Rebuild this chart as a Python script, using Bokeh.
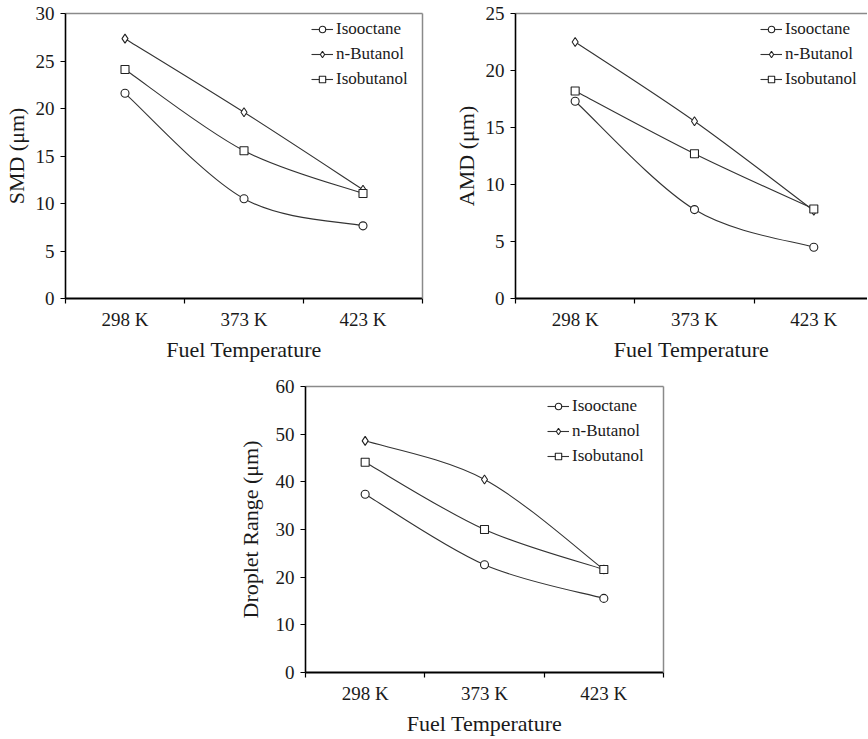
from bokeh.plotting import figure
from bokeh.layouts import column, row, Spacer
from bokeh.models import Range1d, FixedTicker, LinearAxis, Legend, LegendItem
from bokeh.embed import file_html
from bokeh.resources import INLINE

# ---- data ----
temps = ["298 K", "373 K", "423 K"]
series = ["Isooctane", "n-Butanol", "Isobutanol"]
markers = ["circle", "diamond", "square"]

smd_isooctane = [21.6, 10.5, 7.65]
smd_nbutanol = [27.35, 19.6, 11.45]
smd_isobutanol = [24.1, 15.55, 11.05]

amd_isooctane = [17.3, 7.8, 4.5]
amd_nbutanol = [22.5, 15.55, 7.7]
amd_isobutanol = [18.2, 12.7, 7.85]

range_isooctane = [37.4, 22.6, 15.55]
range_nbutanol = [48.6, 40.5, 21.6]
range_isobutanol = [44.1, 30.0, 21.6]

FONT = "Liberation Serif"
LINE = "#333333"
BORDER = "#8a8a8a"
TEXT = "#1a1a1a"
marker_sizes = {"circle": 8, "diamond": 9, "square": 8}


def smooth_segments(xs, ys):
    """Catmull-Rom style bezier control points (Excel-like smoothing)."""
    n = len(xs)
    out = dict(x0=[], y0=[], x1=[], y1=[], cx0=[], cy0=[], cx1=[], cy1=[])
    for i in range(n - 1):
        pm = max(i - 1, 0)
        pp = min(i + 2, n - 1)
        out["x0"].append(xs[i]); out["y0"].append(ys[i])
        out["x1"].append(xs[i + 1]); out["y1"].append(ys[i + 1])
        out["cx0"].append(xs[i] + (xs[i + 1] - xs[pm]) / 6.0)
        out["cy0"].append(ys[i] + (ys[i + 1] - ys[pm]) / 6.0)
        out["cx1"].append(xs[i + 1] - (xs[pp] - xs[i]) / 6.0)
        out["cy1"].append(ys[i + 1] - (ys[pp] - ys[i]) / 6.0)
    return out


def panel(data, ytitle, ymax, ystep, width, height, bl, br, bt, bb, xend,
          legend_xy, ylab_standoff=4, show_right=True):
    p = figure(width=width, height=height, output_backend="svg",
               toolbar_location=None, x_range=Range1d(0, xend),
               y_range=Range1d(0, ymax), min_border_left=bl,
               min_border_right=br, min_border_top=bt, min_border_bottom=bb,
               x_axis_type=None, y_axis_type=None)
    p.grid.visible = False
    p.outline_line_color = None
    p.background_fill_color = "white"
    p.border_fill_color = "white"

    xpos = [i + 0.5 for i in range(len(temps))]

    xaxis = LinearAxis(ticker=FixedTicker(ticks=xpos, minor_ticks=list(range(len(temps) + 1))),
                       major_label_overrides={x: t for x, t in zip(xpos, temps)})
    xaxis.axis_label = "Fuel Temperature"
    xaxis.major_tick_line_color = None
    xaxis.major_tick_out = 0
    xaxis.major_tick_in = 0
    xaxis.minor_tick_line_color = "black"
    xaxis.minor_tick_out = 5
    xaxis.minor_tick_in = 0
    xaxis.minor_tick_line_width = 1.2
    xaxis.axis_line_color = "black"
    xaxis.axis_line_width = 2
    xaxis.major_label_standoff = 5
    xaxis.major_label_text_font = FONT
    xaxis.major_label_text_font_size = "19px"
    xaxis.major_label_text_color = TEXT
    xaxis.axis_label_text_font = FONT
    xaxis.axis_label_text_font_size = "22px"
    xaxis.axis_label_text_font_style = "normal"
    xaxis.axis_label_text_color = TEXT
    xaxis.axis_label_standoff = 4
    p.add_layout(xaxis, "below")

    yaxis = LinearAxis(ticker=FixedTicker(ticks=list(range(0, ymax + 1, ystep)), minor_ticks=[]))
    yaxis.axis_label = ytitle
    yaxis.major_tick_line_color = "black"
    yaxis.major_tick_out = 5
    yaxis.major_tick_in = 0
    yaxis.major_tick_line_width = 1.2
    yaxis.minor_tick_line_color = None
    yaxis.axis_line_color = "black"
    yaxis.axis_line_width = 1.6
    yaxis.major_label_standoff = 6
    yaxis.major_label_text_font = FONT
    yaxis.major_label_text_font_size = "19px"
    yaxis.major_label_text_color = TEXT
    yaxis.axis_label_text_font = FONT
    yaxis.axis_label_text_font_size = "22px"
    yaxis.axis_label_text_font_style = "normal"
    yaxis.axis_label_text_color = TEXT
    yaxis.axis_label_standoff = ylab_standoff
    p.add_layout(yaxis, "left")

    top = LinearAxis(ticker=FixedTicker(ticks=[], minor_ticks=[]))
    top.axis_line_color = BORDER
    top.axis_line_width = 1.5
    top.major_tick_line_color = None
    top.minor_tick_line_color = None
    p.add_layout(top, "above")
    if show_right:
        right = LinearAxis(ticker=FixedTicker(ticks=[], minor_ticks=[]))
        right.axis_line_color = BORDER
        right.axis_line_width = 1.5
        right.major_tick_line_color = None
        right.minor_tick_line_color = None
        p.add_layout(right, "right")

    items = []
    for name, mk, ys in zip(series, markers, data):
        seg = smooth_segments(xpos, ys)
        cr = p.bezier(x0=seg["x0"], y0=seg["y0"], x1=seg["x1"], y1=seg["y1"],
                      cx0=seg["cx0"], cy0=seg["cy0"], cx1=seg["cx1"], cy1=seg["cy1"],
                      line_color=LINE, line_width=1.1)
        sr = p.scatter(xpos, ys, marker=mk, size=marker_sizes[mk],
                       fill_color="white", line_color="#222222", line_width=1.1)
        items.append(LegendItem(label=name, renderers=[cr, sr]))

    leg = Legend(items=items, location=legend_xy)
    leg.background_fill_alpha = 0
    leg.border_line_color = None
    leg.padding = 0
    leg.margin = 0
    leg.spacing = 5
    leg.glyph_width = 22
    leg.glyph_height = 16
    leg.label_height = 20
    leg.label_standoff = 3
    leg.label_text_font = FONT
    leg.label_text_font_size = "17px"
    leg.label_text_color = TEXT
    p.add_layout(leg, "center")
    return p


p1 = panel([smd_isooctane, smd_nbutanol, smd_isobutanol], "SMD (μm)", 30, 5,
           width=434, height=364, bl=64, br=12, bt=13, bb=66, xend=3,
           legend_xy=(246, 209))
p2 = panel([amd_isooctane, amd_nbutanol, amd_isobutanol], "AMD (μm)", 25, 5,
           width=433, height=364, bl=81, br=0, bt=13, bb=66, xend=2.95,
           legend_xy=(245, 209), show_right=False)
p3 = panel([range_isooctane, range_nbutanol, range_isobutanol], "Droplet Range (μm)", 60, 10,
           width=461, height=374, bl=93, br=10, bt=22, bb=66, xend=3,
           legend_xy=(242, 206), ylab_standoff=10)

layout = column(row(p1, p2), row(Spacer(width=212, height=374), p3))

with open("out.html", "w") as f:
    f.write(file_html(layout, INLINE))
